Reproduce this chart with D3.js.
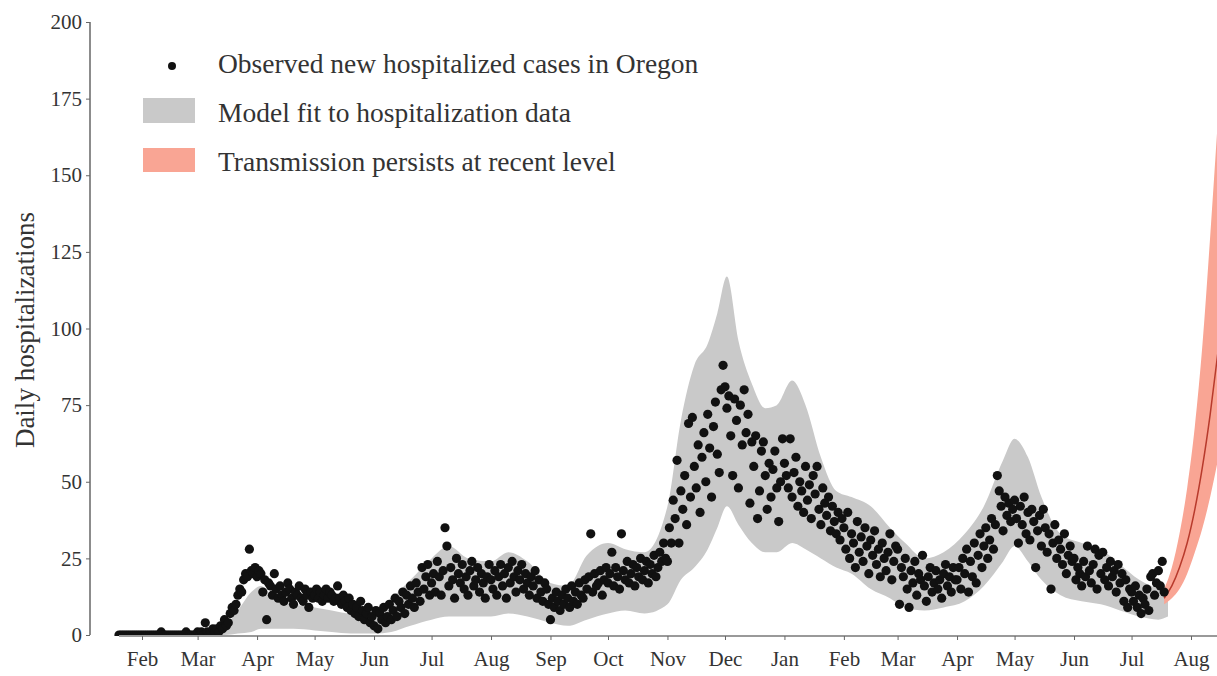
<!DOCTYPE html>
<html>
<head>
<meta charset="utf-8">
<script src="https://cdn.jsdelivr.net/npm/d3@7"></script>
<style>
  body { margin: 0; background: #fff; }
  text { font-family: "Liberation Serif", "DejaVu Serif", serif; fill: #333; }
</style>
</head>
<body>
<div id="mainGraphic"></div>
<script>
let svgWidth = 1217
let svgHeight = 676

// observed daily hospitalizations, one array per month (first day given in obsStarts)
let obs2020Jan = [0,0,0,0,0,0,0,0,0,0,0,0]
let obs2020Feb = [0,0,0,0,0,0,0,0,0,0,1,0,0,0,0,0,0,0,0,0,0,0,0,1,0,0,0,0,0]
let obs2020Mar = [1,0,1,0,4,1,0,1,2,1, 2,1,3,2,5,3,4,7,9,8, 10,13,15,14,18,20,19,28,21,20,22]
let obs2020Apr = [19,21,20,14,18,5,17,16,13,20, 15,12,16,13,11,14,17,15,12,10, 14,13,16,12,11,15,13,9,14,12]
let obs2020May = [13,15,12,14,11,13,15,12,14,13, 11,12,16,12,10,13,11,9,12,8, 10,7,9,6,11,8,5,7,9,4, 6]
let obs2020Jun = [3,8,2,7,5,9,4,6,10,5, 8,12,6,11,9,14,7,13,10,16, 12,9,17,14,11,22,15,19,23,13]
let obs2020Jul = [17,20,14,24,19,13,21,35,29,16, 22,18,12,25,20,17,23,15,19,13, 21,24,16,18,22,14,20,17,12,19, 23]
let obs2020Aug = [18,15,21,13,19,23,16,20,12,22, 17,24,19,14,21,18,23,15,20,17, 13,19,16,21,12,18,14,11,17,15, 10]
let obs2020Sep = [5,12,9,14,11,8,13,10,15,12, 9,16,11,14,10,17,13,12,18,15, 19,33,14,20,16,17,21,13,18,22]
let obs2020Oct = [17,20,27,16,22,19,15,33,21,18, 24,17,20,23,16,22,19,25,18,21, 24,17,23,20,26,19,22,27,24,30, 25]
let obs2020Nov = [24,35,30,44,38,57,30,47,41,52, 36,69,45,71,55,48,62,40,58,66, 50,72,61,45,68,76,59,53,80,88]
let obs2020Dec = [81,74,78,65,52,77,70,48,75,62, 80,66,72,43,63,55,65,38,47,60, 63,52,41,56,45,54,60,48,37,50, 64]
let obs2021Jan = [56,52,48,64,45,53,58,42,50,47, 40,55,44,49,38,52,46,55,41,36, 48,43,39,45,34,42,37,33,40,31, 38]
let obs2021Feb = [35,28,40,25,33,30,22,37,27,32, 24,35,29,20,31,26,34,23,28,19, 30,25,21,27,33,18,24,29]
let obs2021Mar = [28,10,22,19,25,15,9,21,17,24, 13,20,18,26,16,11,19,22,14,17, 21,15,18,12,20,23,16,19,14,22, 18]
let obs2021Apr = [18,22,15,25,20,28,14,24,19,30, 17,26,33,22,29,35,25,31,38,28, 36,52,47,42,34,45,39,43,37,41]
let obs2021May = [44,38,30,42,36,45,33,40,31,41, 37,22,34,39,29,41,35,27,33,15, 30,36,25,31,28,23,33,20,26,29, 24]
let obs2021Jun = [25,18,22,20,16,24,19,29,21,17, 23,28,15,26,20,27,18,22,16,24, 19,21,14,23,17,20,11,18,9,15]
let obs2021Jul = [14,11,16,9,13,7,12,10,15,8, 19,20,13,17,21,16,24,14]

let obsStarts = ["2020-01-20","2020-02-01","2020-03-01","2020-04-01","2020-05-01","2020-06-01",
  "2020-07-01","2020-08-01","2020-09-01","2020-10-01","2020-11-01","2020-12-01",
  "2021-01-01","2021-02-01","2021-03-01","2021-04-01","2021-05-01","2021-06-01","2021-07-01"]
let obsMonths = [obs2020Jan, obs2020Feb, obs2020Mar, obs2020Apr, obs2020May, obs2020Jun,
  obs2020Jul, obs2020Aug, obs2020Sep, obs2020Oct, obs2020Nov, obs2020Dec,
  obs2021Jan, obs2021Feb, obs2021Mar, obs2021Apr, obs2021May, obs2021Jun, obs2021Jul]

// model fit band (grey)
let fitDates = ["2020-01-20","2020-03-01","2020-03-15","2020-03-22","2020-03-29","2020-04-03","2020-04-10",
  "2020-04-20","2020-05-01","2020-05-10","2020-05-20","2020-06-01","2020-06-10","2020-06-20","2020-07-01",
  "2020-07-10","2020-07-20","2020-08-01","2020-08-10","2020-08-20","2020-09-01","2020-09-10","2020-09-20",
  "2020-10-01","2020-10-10","2020-10-20","2020-11-01","2020-11-08","2020-11-15","2020-11-22","2020-11-27",
  "2020-12-02","2020-12-08","2020-12-15","2020-12-22","2020-12-28","2021-01-05","2021-01-12","2021-01-20",
  "2021-01-28","2021-02-05","2021-02-15","2021-02-25","2021-03-05","2021-03-15","2021-03-25","2021-04-05",
  "2021-04-15","2021-04-25","2021-05-01","2021-05-08","2021-05-15","2021-05-25","2021-06-05","2021-06-15",
  "2021-06-25","2021-07-05","2021-07-15","2021-07-20"]
let fitLow = [0,0,0,0.5,1,2,2, 2,1.5,1,0.5,0.5,1,3,5, 6,6,6,7,6,4,3,5, 7,8,7,10,18,22,28,35,
  42,36,30,27,27,30,28,25, 22,20,15,12,9,8,9,11, 16,24,29,24,18,13,11,10, 8,6,5,6]
let fitHigh = [0.5,0.5,3,8,14,16,12, 10,9,8,7,8,12,18,25, 29,25,24,27,24,17,16,26, 30,28,27,42,70,88,95,105,
  117,96,82,74,75,83,75,58, 47,45,42,35,30,25,27,33, 42,57,64,58,45,33,30,28, 23,18,15,14]

// projection: transmission persists at recent level (red)
let projDates = ["2021-07-18","2021-07-22","2021-07-26","2021-07-30","2021-08-03","2021-08-07","2021-08-11","2021-08-15"]
let projLow = [10,12,15,20,27,35,45,57]
let projMid = [12,16,22,30,41,55,72,92]
let projHigh = [15,22,33,48,68,95,130,168]

let yTicks = [0,25,50,75,100,125,150,175,200]
let legendLabels = ["Observed new hospitalized cases in Oregon", "Model fit to hospitalization data", "Transmission persists at recent level"]

renderChart();

function renderChart(){
  let parse = d3.utcParse("%Y-%m-%d")
  let graphic = d3.select("#mainGraphic")
    .append("svg")
      .attr("width", svgWidth)
      .attr("height", svgHeight)

  let x = d3.scaleUtc()
    .domain([parse("2020-02-01"), parse("2021-08-01")])
    .range([142, 1191])
  let y = d3.scaleLinear()
    .domain([0, 200])
    .range([635, 22])

  let points = []
  obsMonths.forEach(function(arr, i){
    let start = parse(obsStarts[i])
    arr.forEach(function(v, j){ points.push({date: d3.utcDay.offset(start, j), value: v}) })
  })
  let fit = fitDates.map((d, i) => ({date: parse(d), lo: fitLow[i], hi: fitHigh[i]}))
  let proj = projDates.map((d, i) => ({date: parse(d), lo: projLow[i], mid: projMid[i], hi: projHigh[i]}))

  let clip = graphic.append("defs").append("clipPath").attr("id", "plotClip")
  clip.append("rect").attr("x", 90).attr("y", 0).attr("width", svgWidth - 90).attr("height", 636)

  let plot = graphic.append("g").attr("clip-path", "url(#plotClip)")

  plot.append("path")
    .datum(fit)
    .attr("fill", "#c9c9c9")
    .attr("d", d3.area().curve(d3.curveMonotoneX)
      .x(d => x(d.date)).y0(d => y(d.lo)).y1(d => y(d.hi)))

  plot.append("path")
    .datum(proj)
    .attr("fill", "#f9a594")
    .attr("d", d3.area().curve(d3.curveMonotoneX)
      .x(d => x(d.date)).y0(d => y(d.lo)).y1(d => y(d.hi)))
  plot.append("path")
    .datum(proj)
    .attr("fill", "none")
    .attr("stroke", "#b83a2c")
    .attr("stroke-width", 1.5)
    .attr("d", d3.line().curve(d3.curveMonotoneX).x(d => x(d.date)).y(d => y(d.mid)))

  plot.append("g")
    .selectAll("circle")
    .data(points)
    .enter()
    .append("circle")
      .attr("cx", d => x(d.date))
      .attr("cy", d => y(d.value))
      .attr("r", 4.6)
      .attr("fill", "#111")

  // axes
  let yAxis = graphic.append("g")
    .attr("transform", "translate(90,0)")
    .call(d3.axisLeft(y).tickValues(yTicks).tickSize(4).tickPadding(4))
  yAxis.select(".domain").attr("stroke", "#666").attr("stroke-width", 1.5).attr("d", "M0," + y(200) + "V" + y(0))
  yAxis.selectAll(".tick line").attr("stroke", "#666")
  yAxis.selectAll("text").style("font-size", "21px").attr("fill", "#333")

  let xAxis = graphic.append("g")
    .attr("transform", "translate(0,636)")
    .call(d3.axisBottom(x).ticks(d3.utcMonth.every(1)).tickFormat(d3.utcFormat("%b")).tickSize(4).tickPadding(11))
  xAxis.select(".domain").attr("stroke", "#999").attr("stroke-width", 2).attr("d", "M" + x(parse("2020-01-20")) + ",0H" + svgWidth)
  xAxis.selectAll(".tick line").attr("stroke", "#666")
  xAxis.selectAll("text").style("font-size", "21px").attr("fill", "#333")

  graphic.append("text")
    .attr("transform", "translate(34,330) rotate(-90)")
    .attr("text-anchor", "middle")
    .style("font-size", "27px")
    .text("Daily hospitalizations")

  // legend
  let legend = graphic.append("g")
  legend.append("circle").attr("cx", 172).attr("cy", 66).attr("r", 4).attr("fill", "#111")
  legend.append("rect").attr("x", 143).attr("y", 98).attr("width", 52).attr("height", 25).attr("fill", "#c9c9c9")
  legend.append("rect").attr("x", 143).attr("y", 148).attr("width", 52).attr("height", 24).attr("fill", "#f9a594")
  legend.selectAll("text.leg")
    .data(legendLabels)
    .enter()
    .append("text")
      .attr("class", "leg")
      .attr("x", 218)
      .attr("y", (d, i) => 73 + i * 49)
      .style("font-size", "27.5px")
      .text(d => d)
}
</script>
</body>
</html>
